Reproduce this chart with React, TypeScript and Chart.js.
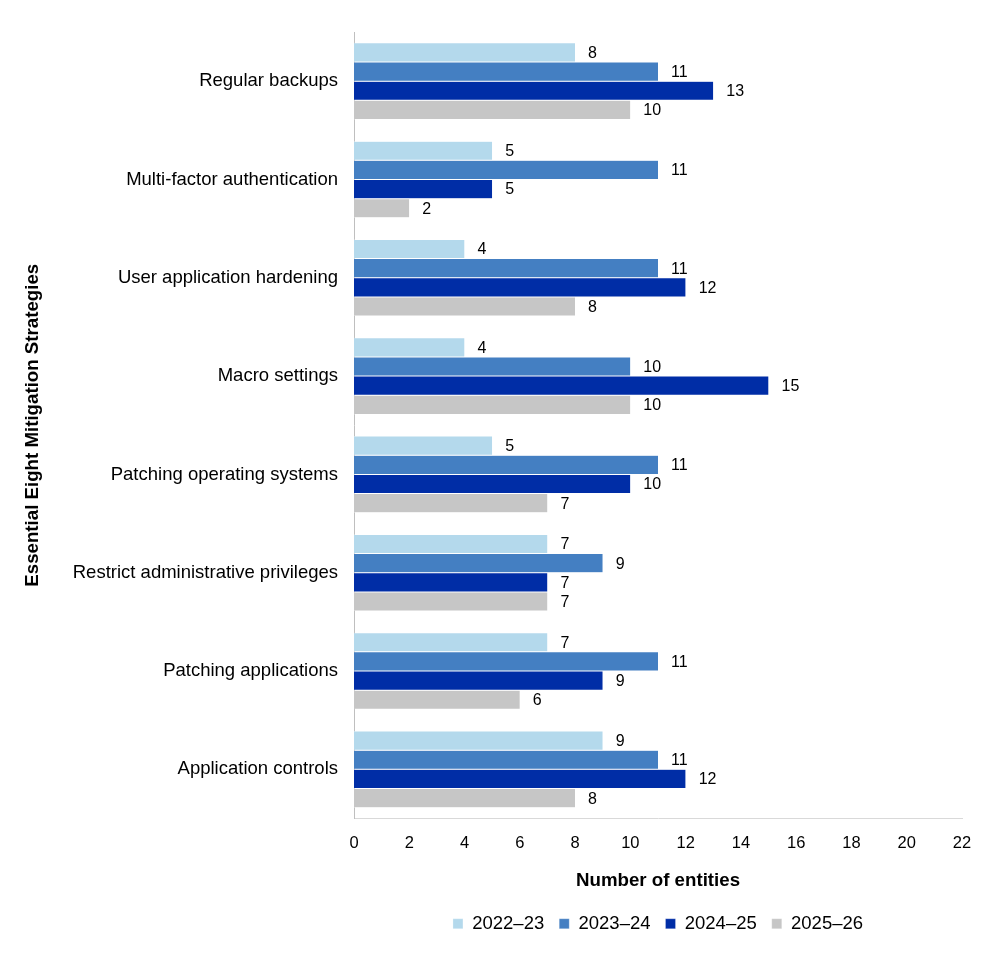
import React, { useEffect, useRef } from "react";
import { Chart, registerables } from "chart.js";

Chart.register(...registerables);

const categories = [
  "Regular backups",
  "Multi-factor authentication",
  "User application hardening",
  "Macro settings",
  "Patching operating systems",
  "Restrict administrative privileges",
  "Patching applications",
  "Application controls",
];

const seriesNames = ["2022\u201323", "2023\u201324", "2024\u201325", "2025\u201326"];
const values2022 = [8, 5, 4, 4, 5, 7, 7, 9];
const values2023 = [11, 11, 11, 10, 11, 9, 11, 11];
const values2024 = [13, 5, 12, 15, 10, 7, 9, 12];
const values2025 = [10, 2, 8, 10, 7, 7, 6, 8];
const colors = ["#B4D9EC", "#447FC2", "#002DA6", "#C6C6C6"];

const FONT = "'Liberation Sans', Arial, sans-serif";

const labelPlugin = {
  id: "barLabels",
  afterDatasetsDraw(chart: any) {
    const ctx = chart.ctx;
    ctx.save();
    ctx.font = `16px ${FONT}`;
    ctx.fillStyle = "#000";
    ctx.textAlign = "left";
    ctx.textBaseline = "middle";
    chart.data.datasets.forEach((ds: any, i: number) => {
      const meta = chart.getDatasetMeta(i);
      meta.data.forEach((bar: any, j: number) => {
        ctx.fillText(String(ds.data[j]), bar.x + 13, bar.y + 1);
      });
    });
    ctx.restore();
  },
};

export default function App() {
  const ref = useRef<HTMLCanvasElement>(null);
  useEffect(() => {
    if (!ref.current) return;
    const all = [values2022, values2023, values2024, values2025];
    const chart = new Chart(ref.current, {
      type: "bar",
      data: {
        labels: categories,
        datasets: all.map((d, i) => ({
          label: seriesNames[i],
          data: d,
          backgroundColor: colors[i],
          borderColor: "#ffffff",
          borderWidth: { top: 0.5, bottom: 0.5, left: 0, right: 0 },
          borderSkipped: false,
          categoryPercentage: 0.78,
          barPercentage: 1,
        })),
      },
      options: {
        indexAxis: "y",
        responsive: false,
        animation: false,
        layout: { padding: { top: 32, right: 35, bottom: 18, left: 0 } },
        plugins: {
          legend: {
            position: "bottom",
            fullSize: false,
            labels: {
              boxWidth: 10,
              boxHeight: 10,
              padding: 15,
              color: "#000",
              font: { family: FONT, size: 18.5 },
            },
          },
          tooltip: { enabled: false },
        },
        scales: {
          x: {
            min: 0,
            max: 22,
            ticks: { stepSize: 2, color: "#000", padding: 7, font: { family: FONT, size: 16.5 } },
            grid: { display: false },
            border: { display: true, color: "#D9D9D9" },
            title: {
              display: true,
              text: "Number of entities",
              color: "#000",
              font: { family: FONT, size: 18.7, weight: "bold" },
              padding: { top: 0, bottom: 7 },
            },
            afterFit: (s: any) => {
              s.height = 81;
            },
          },
          y: {
            ticks: { color: "#000", padding: 8, font: { family: FONT, size: 18.5 } },
            grid: { display: false },
            border: { display: true, color: "#BFBFBF" },
            title: {
              display: true,
              text: "Essential Eight Mitigation Strategies",
              color: "#000",
              font: { family: FONT, size: 18.7, weight: "bold" },
              padding: { top: 22, bottom: 0 },
            },
            afterFit: (s: any) => {
              s.width = 354;
            },
          },
        },
      },
      plugins: [labelPlugin],
    } as any);
    return () => chart.destroy();
  }, []);
  return (
    <div style={{ position: "absolute", left: 0, top: 0, width: 997, height: 961, background: "#fff" }}>
      <canvas ref={ref} width={997} height={961} />
    </div>
  );
}
